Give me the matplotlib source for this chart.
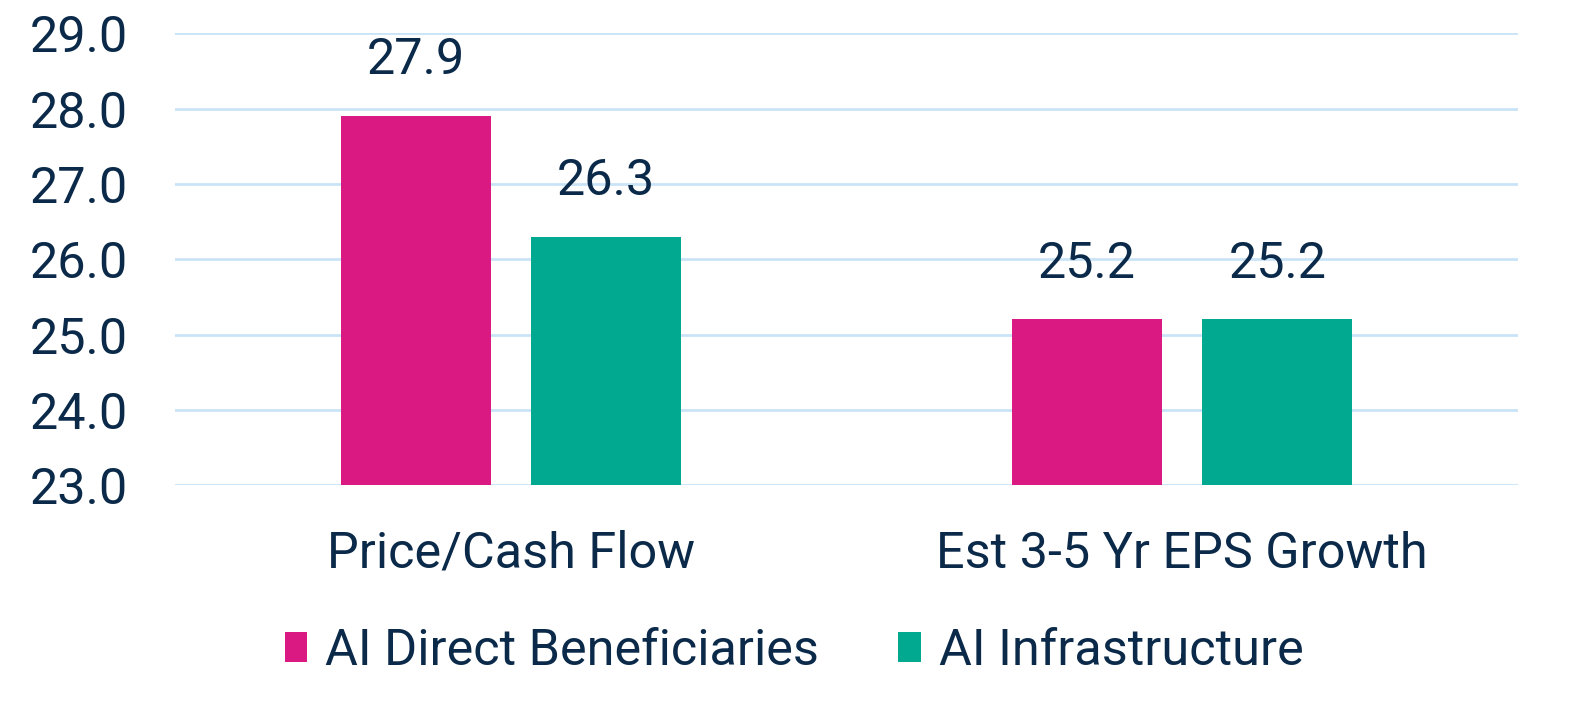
import numpy as np
import matplotlib.pyplot as plt

plt.rcParams['font.family'] = ['Roboto', 'DejaVu Sans']

categories = ['Price/Cash Flow', 'Est 3-5 Yr EPS Growth']
direct = [27.9, 25.2]
infra = [26.3, 25.2]
series_names = ['AI Direct Beneficiaries', 'AI Infrastructure']

text_col = '#0B2A4A'
pink = '#DA1A82'
teal = '#00A98F'
grid_col = '#C9E3F7'
fs = 36.3

fig = plt.figure(figsize=(15.69, 7.23), dpi=100)
ax = fig.add_axes([0.1115, 0.329, 0.856, 0.625])

x = np.arange(len(categories))
w = 0.2234
off = 0.1415
b1 = ax.bar(x - off, np.array(direct) - 23, w, bottom=23, color=pink, label=series_names[0], zorder=3)
b2 = ax.bar(x + off, np.array(infra) - 23, w, bottom=23, color=teal, label=series_names[1], zorder=3)

# value labels above bars
for xs, vals in [(x - off, direct), (x + off, infra)]:
    for xi, v in zip(xs, vals):
        ax.annotate(f'{v:.1f}', (xi, v), xytext=(0, 23), textcoords='offset points',
                    ha='center', va='bottom', fontsize=fs, color=text_col)

ax.set_xlim(-0.5, 1.5)
ax.set_ylim(23, 29)
ax.set_yticks(np.arange(23, 29.1, 1))
ax.set_yticklabels([f'{t:.1f}' for t in np.arange(23, 29.1, 1)])
ax.set_xticks(x)
ax.set_xticklabels(categories)
ax.tick_params(axis='y', length=0, pad=34, labelsize=fs, labelcolor=text_col)
ax.tick_params(axis='x', length=0, pad=32, labelsize=fs, labelcolor=text_col)
ax.grid(axis='y', color=grid_col, linewidth=2, zorder=0)
for s in ax.spines.values():
    s.set_visible(False)

fig.legend(handles=[b1, b2], loc='center', bbox_to_anchor=(794 / 1569, 1 - 651 / 723),
           ncol=2, frameon=False, fontsize=fs, labelcolor=text_col,
           handlelength=0.45, handleheight=0.53, handletextpad=0.35, columnspacing=1.58)

fig.savefig('out.png', dpi=100)
